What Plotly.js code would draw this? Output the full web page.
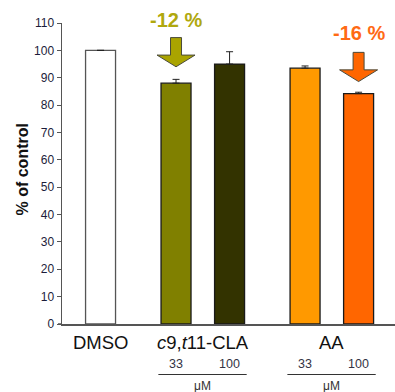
<!DOCTYPE html>
<html>
<head>
<meta charset="utf-8">
<script src="https://cdn.plot.ly/plotly-3.0.1.min.js"></script>
<style>
  html, body { margin: 0; padding: 0; background: #fff; }
  #chart { width: 395px; height: 392px; }
</style>
</head>
<body>
<div id="chart"></div>
<script>
// Cell viability relative to DMSO control
const treatments = ['DMSO', 'CLA 33', 'CLA 100', 'AA 33', 'AA 100'];
const percentOfControl = [100, 88.0, 95.0, 93.5, 84.2];
const sem = [null, 1.4, 4.5, 0.8, 0.5];
const doseLabels = ['', '33', '100', '33', '100'];
const groupLabels = ['DMSO', '<i>c</i>9,<i>t</i>11-CLA', 'AA'];
const yTicks = [0, 10, 20, 30, 40, 50, 60, 70, 80, 90, 100, 110];
const arrowBars = [1, 4];   // treatments marked with a reduction arrow

// layout constants
const fills = ['#ffffff', '#808000', '#333300', '#ff9900', '#ff6600'];
const outlines = ['#555555', '#1a1a1a', '#1a1a1a', '#1a1a1a', '#1a1a1a'];
const slotX = [0, 1.41, 2.41, 3.82, 4.82];      // bar centres along x
const groupSpan = [[0, 0], [1, 2], [3, 4]];      // bars under each group label
const arrowFill = {1: '#aaa400', 4: '#ff6600'};
const pctColor = {1: '#b0a80e', 4: '#ff6a14'};
const tipGap = {1: 6.0, 4: 4.4};                 // gap between bar top and arrow tip
const pctPx = {1: 20, 4: 32.7};                  // vertical pixel position of the % labels

const W = 395, H = 392;
const M = {l: 62, r: 0, t: 23, b: 68};
const yMax = 110;
const xRange = [-0.72, 5.5];
const pxPerY = (H - M.t - M.b) / yMax;
const pxPerX = (W - M.l - M.r) / (xRange[1] - xRange[0]);
const toPaperY = px => (H - M.b - px) / (H - M.t - M.b);
const FONT = 'Liberation Sans, Arial, sans-serif';

const bars = {
  type: 'bar',
  x: slotX,
  y: percentOfControl,
  width: 0.56,
  marker: { color: fills, line: { color: outlines, width: 1.3 } },
  error_y: {
    type: 'data', array: sem, symmetric: false, arrayminus: sem.map(() => 0),
    visible: true, color: '#222222', thickness: 1, width: 3.5
  },
  hoverinfo: 'skip'
};

const shapes = [];
const annotations = [];

// reduction arrows drawn in data space above the bars
arrowBars.forEach(i => {
  const cx = slotX[i];
  const tip = percentOfControl[i] + tipGap[i];
  const dx = px => px / pxPerX;
  const dy = px => px / pxPerY;
  const headBase = tip + dy(11.7);
  const top = headBase + dy(17.5);
  const sw = dx(5.5), hw = dx(19);
  const path = `M ${cx - sw} ${top} L ${cx + sw} ${top} L ${cx + sw} ${headBase} ` +
               `L ${cx + hw} ${headBase} L ${cx} ${tip} L ${cx - hw} ${headBase} ` +
               `L ${cx - sw} ${headBase} Z`;
  shapes.push({
    type: 'path', xref: 'x', yref: 'y', path: path,
    fillcolor: arrowFill[i], line: { color: '#4a4a3a', width: 1 }
  });
  annotations.push({
    xref: 'x', yref: 'paper', x: cx, y: toPaperY(pctPx[i]),
    text: Math.round(percentOfControl[i] - 100) + ' %', showarrow: false,
    xanchor: 'center', yanchor: 'middle',
    font: { family: FONT, size: 20, color: pctColor[i], weight: 'bold' }
  });
});

// group labels, dose labels, bracket lines and unit
groupLabels.forEach((g, k) => {
  const [a, b] = groupSpan[k];
  const mid = (slotX[a] + slotX[b]) / 2;
  annotations.push({
    xref: 'x', yref: 'paper', x: mid, y: toPaperY(342.7),
    text: g, showarrow: false, xanchor: 'center', yanchor: 'middle',
    font: { family: FONT, size: 18.5, color: '#111111' }
  });
  if (a !== b) {
    shapes.push({
      type: 'line', xref: 'x', yref: 'paper',
      x0: slotX[a] - 0.33, x1: slotX[b] + 0.32,
      y0: toPaperY(374.5), y1: toPaperY(374.5),
      line: { color: '#333333', width: 1 }
    });
    annotations.push({
      xref: 'x', yref: 'paper', x: mid, y: toPaperY(386),
      text: 'μM', showarrow: false, xanchor: 'center', yanchor: 'middle',
      font: { family: FONT, size: 12, color: '#333333' }
    });
  }
});
doseLabels.forEach((d, i) => {
  if (!d) return;
  annotations.push({
    xref: 'x', yref: 'paper', x: slotX[i], y: toPaperY(364),
    text: d, showarrow: false, xanchor: 'center', yanchor: 'middle',
    font: { family: FONT, size: 12.5, color: '#333344' }
  });
});

// y-axis title
annotations.push({
  xref: 'paper', yref: 'paper', x: (21.5 - M.l) / (W - M.l - M.r), y: toPaperY(170),
  text: '% of control', showarrow: false, textangle: -90,
  xanchor: 'center', yanchor: 'middle',
  font: { family: FONT, size: 16, color: '#111111', weight: 'bold' }
});

// x-axis baseline continues a little left of the y-axis
shapes.push({
  type: 'line', xref: 'paper', yref: 'paper', x0: -4 / (W - M.l - M.r), x1: 0, y0: 0, y1: 0,
  line: { color: '#555555', width: 1.5 }
});

const layout = {
  width: W, height: H,
  margin: M,
  paper_bgcolor: '#ffffff', plot_bgcolor: '#ffffff',
  showlegend: false,
  xaxis: {
    range: xRange, showticklabels: false, ticks: '', showgrid: false,
    zeroline: false, showline: true, linecolor: '#555555', linewidth: 1.5,
    fixedrange: true
  },
  yaxis: {
    range: [0, yMax], tickvals: yTicks, ticks: 'outside', ticklen: 4,
    tickcolor: '#555555', tickwidth: 1, showgrid: false, zeroline: false,
    showline: true, linecolor: '#555555', linewidth: 1.5,
    tickfont: { family: FONT, size: 12, color: '#1c1c3a' },
    fixedrange: true
  },
  shapes: shapes,
  annotations: annotations
};

Plotly.newPlot('chart', [bars], layout, { displayModeBar: false, staticPlot: true });
</script>
</body>
</html>
